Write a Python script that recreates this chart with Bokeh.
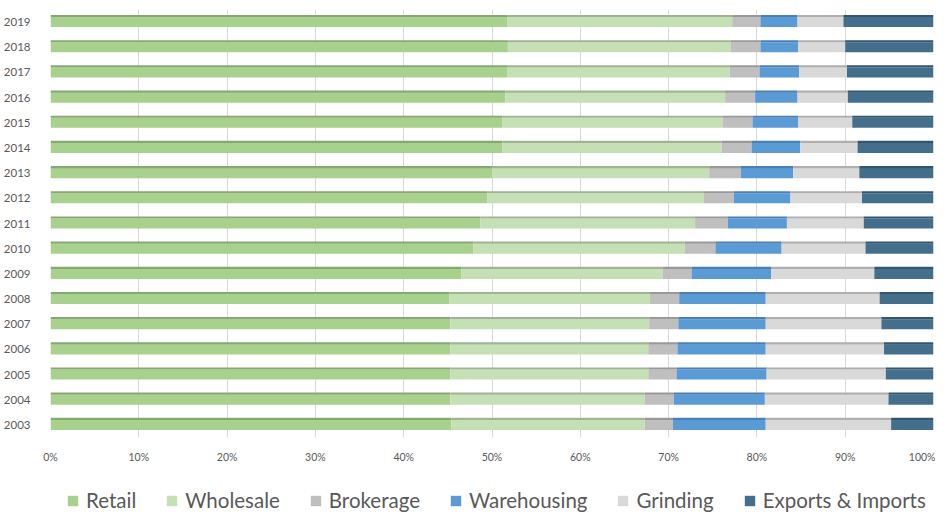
from bokeh.plotting import figure
from bokeh.layouts import column
from bokeh.models import ColumnDataSource, FactorRange, Legend, LegendItem, SingleIntervalTicker, CustomJSTickFormatter
from bokeh.transform import dodge
from bokeh.embed import file_html
from bokeh.resources import INLINE

years = [str(y) for y in range(2003, 2020)]
retail = [45.4, 45.3, 45.3, 45.3, 45.3, 45.2, 46.5, 47.9, 48.7, 49.5, 50.0, 51.2, 51.2, 51.5, 51.7, 51.8, 51.7]
wholesale = [21.9, 22.0, 22.4, 22.4, 22.5, 22.7, 22.8, 23.9, 24.3, 24.5, 24.6, 24.8, 24.9, 24.9, 25.2, 25.2, 25.5]
brokerage = [3.2, 3.3, 3.2, 3.3, 3.3, 3.3, 3.3, 3.5, 3.7, 3.4, 3.6, 3.4, 3.4, 3.4, 3.4, 3.4, 3.2]
warehousing = [10.5, 10.3, 10.2, 10.0, 9.9, 9.8, 9.0, 7.5, 6.7, 6.4, 5.9, 5.5, 5.2, 4.8, 4.5, 4.3, 4.2]
grinding = [14.2, 14.0, 13.5, 13.4, 13.1, 12.9, 11.7, 9.5, 8.7, 8.1, 7.5, 6.5, 6.1, 5.7, 5.4, 5.3, 5.2]
exports = [4.8, 5.1, 5.4, 5.6, 5.9, 6.1, 6.7, 7.7, 7.9, 8.1, 8.4, 8.6, 9.2, 9.7, 9.8, 10.0, 10.2]

names = ["Retail", "Wholesale", "Brokerage", "Warehousing", "Grinding", "Exports & Imports"]
series = [retail, wholesale, brokerage, warehousing, grinding, exports]
colors = ["#A9D18E", "#C5E0B4", "#BFBFBF", "#5B9BD5", "#D9D9D9", "#436F8C"]
top_colors = ["#86A872", "#9FB592", "#999999", "#4A80B3", "#AFAFAF", "#32566E"]

totals = [sum(v) for v in zip(*series)]
data = {"year": years}
for n, s in zip(names, series):
    data[n] = [100.0 * a / t for a, t in zip(s, totals)]
source = ColumnDataSource(data)

p = figure(y_range=FactorRange(factors=years, range_padding=0), x_range=(0, 100),
           width=935, height=472, output_backend="svg", toolbar_location=None,
           min_border_left=50, min_border_right=2, min_border_top=9, min_border_bottom=35,
           outline_line_color=None)

p.hbar_stack(names, y="year", height=0.40, color=colors, line_color=None, source=source)
p.hbar_stack(names, y=dodge("year", 0.24, range=p.y_range), height=0.085, color=top_colors,
             line_color=None, source=source)

p.xaxis.ticker = SingleIntervalTicker(interval=10)
p.xaxis.formatter = CustomJSTickFormatter(code="return tick.toFixed(0) + '%';")
p.xaxis.axis_line_color = None
p.xaxis.major_tick_line_color = None
p.xaxis.minor_tick_line_color = None
p.xaxis.major_label_standoff = 7
p.xaxis.major_label_text_font = "Lato"
p.xaxis.major_label_text_font_size = "10.5px"
p.xaxis.major_label_text_color = "#595959"

p.yaxis.axis_line_color = None
p.yaxis.major_tick_line_color = None
p.yaxis.minor_tick_line_color = None
p.yaxis.major_label_standoff = 14
p.yaxis.major_label_text_font = "Lato"
p.yaxis.major_label_text_font_size = "11.5px"
p.yaxis.major_label_text_color = "#595959"

p.xgrid.grid_line_color = "#D9D9D9"
p.ygrid.grid_line_color = None

# legend strip below the chart
lg = figure(y_range=FactorRange(factors=years), x_range=(0, 100),
            width=935, height=40, output_backend="svg", toolbar_location=None,
            min_border_left=0, min_border_right=0, min_border_top=0, min_border_bottom=0,
            outline_line_color=None)
lg.axis.visible = False
lg.grid.visible = False
legend_rs = lg.hbar_stack(names, y="year", height=0.40, color=colors, line_color=None, source=source)
for r in legend_rs:
    r.visible = False

items = [LegendItem(label=n, renderers=[r]) for n, r in zip(names, legend_rs)]
legend = Legend(items=items, orientation="horizontal", location=(16, 0),
                border_line_color=None, background_fill_alpha=0,
                label_text_font="Lato", label_text_font_size="20.5px",
                label_text_color="#595959", glyph_width=13, glyph_height=13,
                label_standoff=7, spacing=29, padding=0, margin=0)
lg.add_layout(legend)

layout = column(p, lg, spacing=0)
open("out.html", "w").write(file_html(layout, INLINE))
